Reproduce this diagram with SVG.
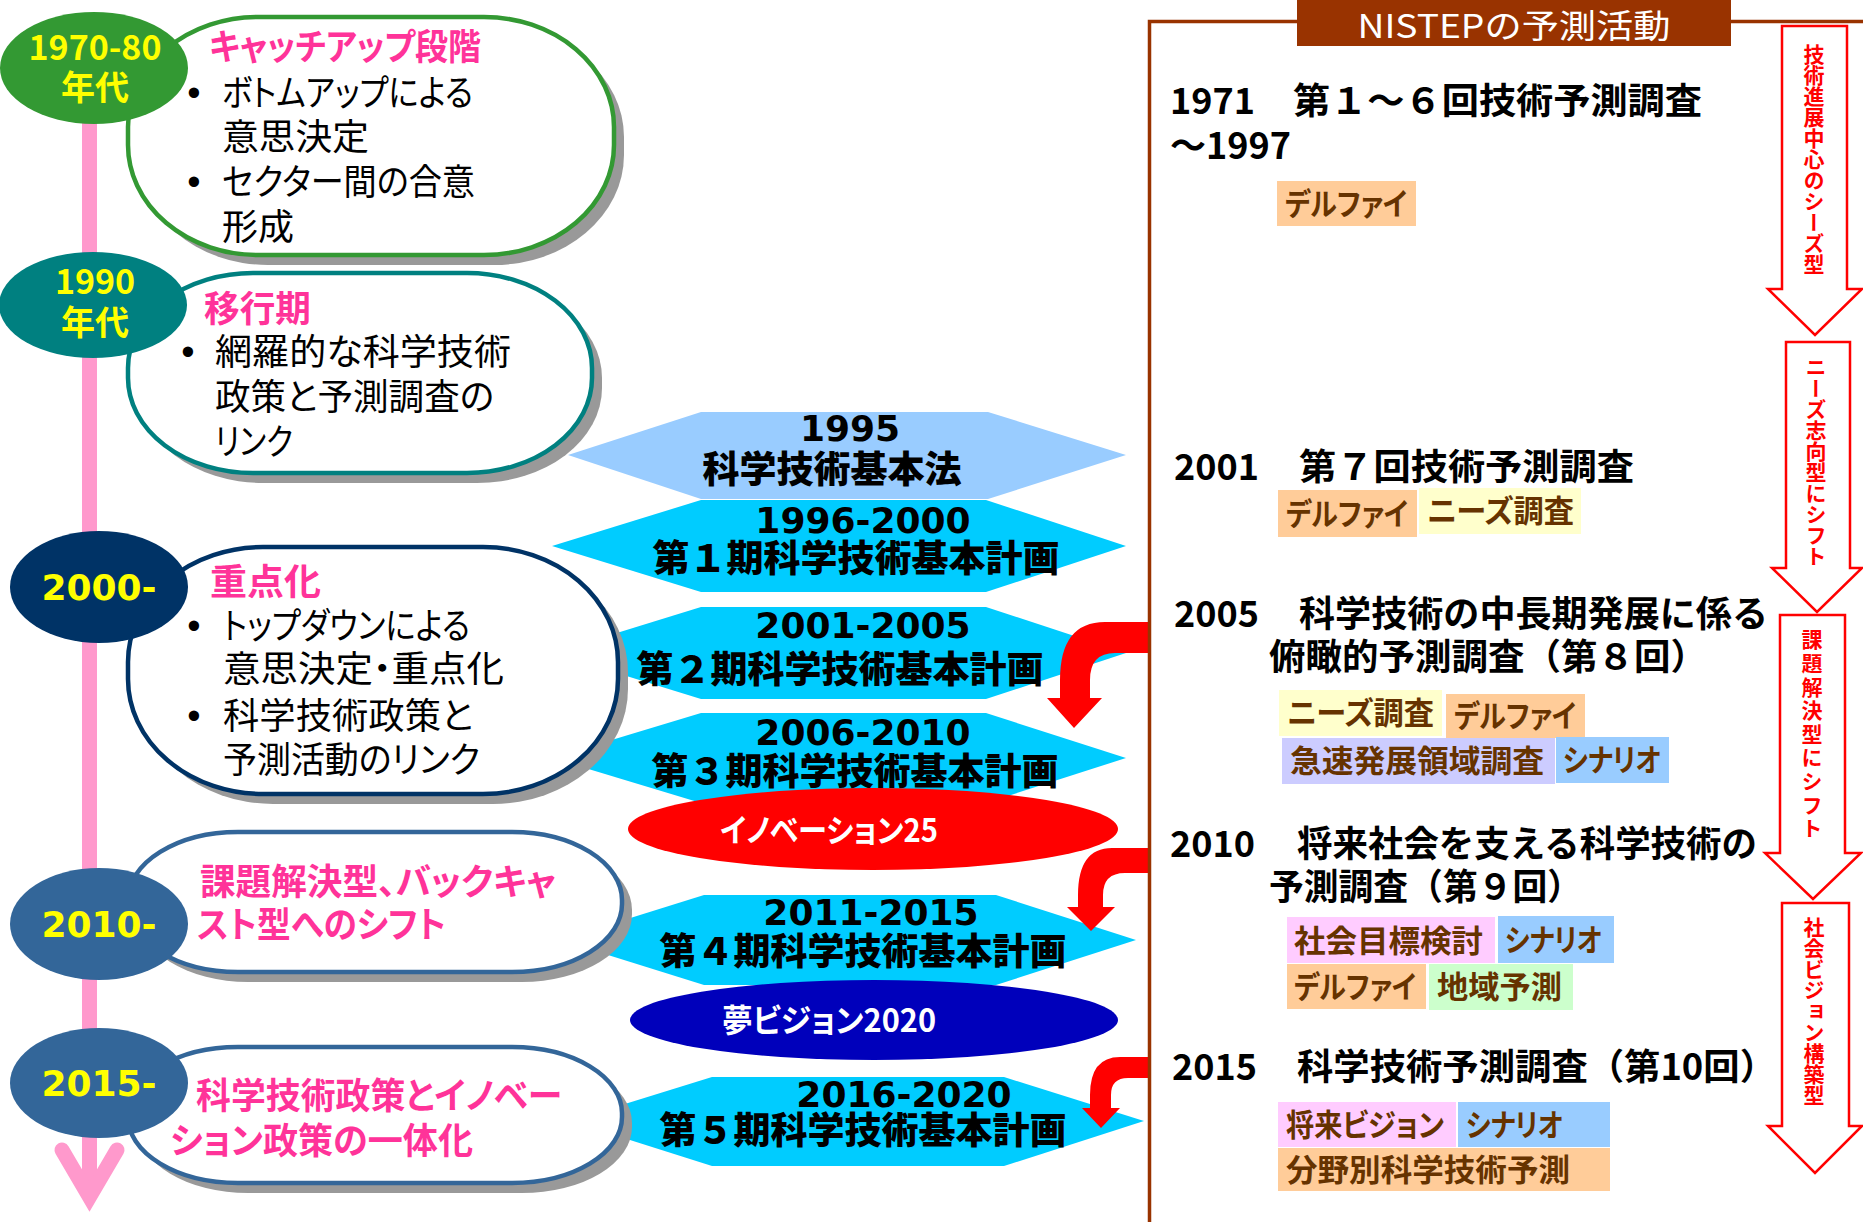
<svg xmlns="http://www.w3.org/2000/svg" width="1863" height="1222" viewBox="0 0 1863 1222">
<defs>
<style>
text { font-family: "Noto Sans CJK JP", "Noto Sans", sans-serif; }
.yr { font-family: "DejaVu Sans", sans-serif; font-weight: bold; fill: #FFFF00; font-size: 36px; text-anchor: middle; }
.yl { font-weight: bold; fill: #FFFF00; font-size: 34px; text-anchor: middle; }
.box { fill: #FFFFFF; stroke-width: 4.5; }
.shadow { fill: #999999; }
.ttl { fill: #FF3399; font-weight: bold; font-size: 36px; font-feature-settings: "palt" 1; }
.bl { fill: #000000; font-size: 36px; font-feature-settings: "palt" 1; }
.dot { font-family: "Liberation Sans", sans-serif; font-size: 38px; text-anchor: middle; fill: #000; }
.hx1 { fill: #99CCFF; }
.hx { fill: #00CCFF; }
.hxy { font-family: "DejaVu Sans", sans-serif; font-weight: bold; font-size: 36px; text-anchor: middle; fill: #000; }
.hxk { font-weight: 900; font-size: 37px; text-anchor: middle; fill: #000; }
.ovt { fill: #FFFFFF; font-weight: bold; font-size: 32px; text-anchor: middle; font-feature-settings: "palt" 1; }
.hd { font-weight: bold; font-size: 36px; fill: #000; }
.tagt { fill: #663300; font-weight: bold; font-size: 31px; font-feature-settings: "palt" 1; }
.or { fill: #FFCC99; }
.ye { fill: #FFFFCC; }
.la { fill: #CCCCFF; }
.bu { fill: #99CCFF; }
.pk { fill: #FFCCFF; }
.gr { fill: #CCFFCC; }
.v { fill: #FF0000; font-weight: bold; font-size: 21px; writing-mode: vertical-rl; }
.harrow { fill: #FFFFFF; stroke: #FF0000; stroke-width: 2.5; }
.curve { fill: #FF0000; }
</style>
</defs>

<!-- timeline -->
<g id="timeline">
  <line x1="89.5" y1="60" x2="89.5" y2="1195" stroke="#FF99CC" stroke-width="15"/>
  <path d="M62 1150 L89.5 1197 L117 1150" fill="none" stroke="#FF99CC" stroke-width="15" stroke-linecap="round" stroke-linejoin="miter"/>
</g>

<!-- plan hexagons -->
<g id="plan-1995">
  <polygon class="hx1" points="568,455 701,412 988,412 1126,455 988,499 701,499"/>
  <text class="hxy" x="850" y="441">1995</text>
  <text class="hxk" x="832" y="483">科学技術基本法</text>
</g>
<g id="plan-1">
  <polygon class="hx" points="552,546 701,500 986,500 1126,546 986,592 701,592"/>
  <text class="hxy" x="863" y="533">1996-2000</text>
  <text class="hxk" x="856" y="572">第１期科学技術基本計画</text>
</g>
<g id="plan-2">
  <polygon class="hx" points="552,653 701,607 986,607 1126,653 986,699 701,699"/>
  <text class="hxy" x="863" y="638">2001-2005</text>
  <text class="hxk" x="840" y="683">第２期科学技術基本計画</text>
</g>
<g id="plan-3">
  <polygon class="hx" points="552,758 701,713 986,713 1126,758 986,803 701,803"/>
  <text class="hxy" x="863" y="745">2006-2010</text>
  <text class="hxk" x="855" y="785">第３期科学技術基本計画</text>
</g>
<g id="innovation25">
  <ellipse cx="873" cy="829" rx="245" ry="41" fill="#FF0000"/>
  <text class="ovt" x="829" y="842" textLength="218" lengthAdjust="spacingAndGlyphs">イノベーション25</text>
</g>
<g id="plan-4">
  <polygon class="hx" points="560,940 704,895 996,895 1136,940 996,985 704,985"/>
  <text class="hxy" x="871" y="925">2011-2015</text>
  <text class="hxk" x="863" y="965">第４期科学技術基本計画</text>
</g>
<g id="yume2020">
  <ellipse cx="874" cy="1020" rx="244" ry="40" fill="#0000BB"/>
  <text class="ovt" x="829" y="1032" textLength="214" lengthAdjust="spacingAndGlyphs">夢ビジョン2020</text>
</g>
<g id="plan-5">
  <polygon class="hx" points="570,1121 712,1077 1004,1077 1144,1121 1004,1166 712,1166"/>
  <text class="hxy" x="904" y="1107">2016-2020</text>
  <text class="hxk" x="863" y="1144">第５期科学技術基本計画</text>
</g>

<!-- era boxes -->
<g id="era-1970">
  <rect class="shadow" x="138" y="27" width="486" height="238" rx="130" ry="110"/>
  <rect class="box" x="128" y="17" width="486" height="238" rx="130" ry="110" stroke="#339933"/>
  <ellipse cx="94" cy="68" rx="94" ry="56" fill="#339933"/>
  <text class="yl" x="95" y="60">1970-80</text>
  <text class="yl" x="95" y="100">年代</text>
  <text class="ttl" x="209" y="60" textLength="272" lengthAdjust="spacingAndGlyphs">キャッチアップ段階</text>
  <text class="dot" x="194" y="106">•</text>
  <text class="bl" x="222" y="106" textLength="251" lengthAdjust="spacingAndGlyphs">ボトムアップによる</text>
  <text class="bl" x="222" y="150" textLength="147" lengthAdjust="spacingAndGlyphs">意思決定</text>
  <text class="dot" x="194" y="195">•</text>
  <text class="bl" x="222" y="195" textLength="253" lengthAdjust="spacingAndGlyphs">セクター間の合意</text>
  <text class="bl" x="222" y="240" textLength="72" lengthAdjust="spacingAndGlyphs">形成</text>
</g>
<g id="era-1990">
  <rect class="shadow" x="138" y="283" width="464" height="200" rx="125" ry="95"/>
  <rect class="box" x="128" y="273" width="464" height="200" rx="125" ry="95" stroke="#008080"/>
  <ellipse cx="93" cy="305" rx="94" ry="53" fill="#008080"/>
  <text class="yl" x="95" y="294">1990</text>
  <text class="yl" x="95" y="335">年代</text>
  <text class="ttl" x="204" y="322" textLength="107" lengthAdjust="spacingAndGlyphs">移行期</text>
  <text class="dot" x="188" y="365">•</text>
  <text class="bl" x="215" y="365" textLength="296" lengthAdjust="spacingAndGlyphs">網羅的な科学技術</text>
  <text class="bl" x="215" y="410" textLength="279" lengthAdjust="spacingAndGlyphs">政策と予測調査の</text>
  <text class="bl" x="215" y="455" textLength="78" lengthAdjust="spacingAndGlyphs">リンク</text>
</g>
<g id="era-2000">
  <rect class="shadow" x="138" y="557" width="490" height="247" rx="135" ry="115"/>
  <rect class="box" x="128" y="547" width="490" height="247" rx="135" ry="115" stroke="#003366"/>
  <ellipse cx="99" cy="587" rx="89" ry="56" fill="#003366"/>
  <text class="yr" x="99" y="600">2000-</text>
  <text class="ttl" x="210" y="595" textLength="111" lengthAdjust="spacingAndGlyphs">重点化</text>
  <text class="dot" x="194" y="639">•</text>
  <text class="bl" x="223" y="639" textLength="247" lengthAdjust="spacingAndGlyphs">トップダウンによる</text>
  <text class="bl" x="223" y="682" textLength="281" lengthAdjust="spacingAndGlyphs">意思決定・重点化</text>
  <text class="dot" x="194" y="729">•</text>
  <text class="bl" x="223" y="729" textLength="250" lengthAdjust="spacingAndGlyphs">科学技術政策と</text>
  <text class="bl" x="223" y="773" textLength="257" lengthAdjust="spacingAndGlyphs">予測活動のリンク</text>
</g>
<g id="era-2010">
  <rect class="shadow" x="138" y="842" width="494" height="140" rx="110" ry="68"/>
  <rect class="box" x="128" y="832" width="494" height="140" rx="110" ry="68" stroke="#336699"/>
  <ellipse cx="99" cy="924" rx="89" ry="56" fill="#336699"/>
  <text class="yr" x="99" y="937">2010-</text>
  <text class="ttl" x="200" y="895" textLength="356" lengthAdjust="spacingAndGlyphs">課題解決型、バックキャ</text>
  <text class="ttl" x="197" y="938" textLength="249" lengthAdjust="spacingAndGlyphs">スト型へのシフト</text>
</g>
<g id="era-2015">
  <rect class="shadow" x="138" y="1057" width="494" height="136" rx="110" ry="66"/>
  <rect class="box" x="128" y="1047" width="494" height="136" rx="110" ry="66" stroke="#336699"/>
  <ellipse cx="99" cy="1083" rx="89" ry="55" fill="#336699"/>
  <text class="yr" x="99" y="1096">2015-</text>
  <text class="ttl" x="196" y="1109" textLength="366" lengthAdjust="spacingAndGlyphs">科学技術政策とイノベー</text>
  <text class="ttl" x="170" y="1154" textLength="303" lengthAdjust="spacingAndGlyphs">ション政策の一体化</text>
</g>

<!-- connectors -->
<g id="connectors">
  <path class="curve" d="M1150,622 L1105,622 Q1060,622 1060,680 L1060,698 L1047,698 L1074,728 L1102,698 L1090,698 L1090,680 Q1090,653 1115,653 L1150,653 Z"/>
  <path class="curve" d="M1150,848 L1112,848 Q1078,848 1078,895 L1078,907 L1067,907 L1091,931 L1115,907 L1103,907 L1103,895 Q1103,873 1125,873 L1150,873 Z"/>
  <path class="curve" d="M1150,1057 L1120,1057 Q1090,1057 1090,1095 L1090,1108 L1082,1108 L1101,1128 L1120,1108 L1111,1108 L1111,1095 Q1111,1078 1128,1078 L1150,1078 Z"/>
</g>

<!-- NISTEP panel -->
<g id="nistep-frame">
  <path d="M1149.5,1222 L1149.5,21.5 L1863,21.5" fill="none" stroke="#993300" stroke-width="3.5"/>
  <rect x="1297" y="0" width="434" height="46" fill="#993300"/>
  <text x="1514" y="38" font-size="33" fill="#FFFFFF" text-anchor="middle" textLength="313" lengthAdjust="spacingAndGlyphs">NISTEPの予測活動</text>
</g>

<g id="survey-1971">
  <text class="hd" x="1170" y="114">1971</text>
  <text class="hd" x="1293" y="114" textLength="409" lengthAdjust="spacingAndGlyphs">第１～６回技術予測調査</text>
  <text class="hd" x="1170" y="159">～1997</text>
  <rect class="or" x="1277" y="181" width="139" height="45"/>
  <text class="tagt" x="1285" y="215" textLength="122" lengthAdjust="spacingAndGlyphs">デルファイ</text>
</g>
<g id="survey-2001">
  <text class="hd" x="1174" y="480">2001</text>
  <text class="hd" x="1299" y="480" textLength="335" lengthAdjust="spacingAndGlyphs">第７回技術予測調査</text>
  <rect class="or" x="1278" y="490" width="139" height="47"/>
  <text class="tagt" x="1286" y="525" textLength="122" lengthAdjust="spacingAndGlyphs">デルファイ</text>
  <rect class="ye" x="1419" y="488" width="162" height="46"/>
  <text class="tagt" x="1427" y="522" textLength="147" lengthAdjust="spacingAndGlyphs">ニーズ調査</text>
</g>
<g id="survey-2005">
  <text class="hd" x="1174" y="627">2005</text>
  <text class="hd" x="1299" y="627" textLength="469" lengthAdjust="spacingAndGlyphs">科学技術の中長期発展に係る</text>
  <text class="hd" x="1269" y="670" textLength="438" lengthAdjust="spacingAndGlyphs">俯瞰的予測調査（第８回）</text>
  <rect class="ye" x="1279" y="690" width="163" height="46"/>
  <text class="tagt" x="1287" y="724" textLength="147" lengthAdjust="spacingAndGlyphs">ニーズ調査</text>
  <rect class="or" x="1446" y="694" width="139" height="44"/>
  <text class="tagt" x="1454" y="727" textLength="122" lengthAdjust="spacingAndGlyphs">デルファイ</text>
  <rect class="la" x="1282" y="738" width="273" height="46"/>
  <text class="tagt" x="1290" y="772" textLength="254" lengthAdjust="spacingAndGlyphs">急速発展領域調査</text>
  <rect class="bu" x="1556" y="737" width="113" height="46"/>
  <text class="tagt" x="1563" y="771" textLength="98" lengthAdjust="spacingAndGlyphs">シナリオ</text>
</g>
<g id="survey-2010">
  <text class="hd" x="1170" y="857">2010</text>
  <text class="hd" x="1297" y="857" textLength="460" lengthAdjust="spacingAndGlyphs">将来社会を支える科学技術の</text>
  <text class="hd" x="1269" y="900" textLength="313" lengthAdjust="spacingAndGlyphs">予測調査（第９回）</text>
  <rect class="pk" x="1287" y="917" width="208" height="46"/>
  <text class="tagt" x="1294" y="952" textLength="189" lengthAdjust="spacingAndGlyphs">社会目標検討</text>
  <rect class="bu" x="1498" y="916" width="116" height="47"/>
  <text class="tagt" x="1505" y="951" textLength="97" lengthAdjust="spacingAndGlyphs">シナリオ</text>
  <rect class="or" x="1287" y="964" width="139" height="45"/>
  <text class="tagt" x="1294" y="998" textLength="122" lengthAdjust="spacingAndGlyphs">デルファイ</text>
  <rect class="gr" x="1429" y="964" width="144" height="46"/>
  <text class="tagt" x="1437" y="998" textLength="125" lengthAdjust="spacingAndGlyphs">地域予測</text>
</g>
<g id="survey-2015">
  <text class="hd" x="1172" y="1080">2015</text>
  <text class="hd" x="1297" y="1080" textLength="479" lengthAdjust="spacingAndGlyphs">科学技術予測調査（第10回）</text>
  <rect class="pk" x="1278" y="1102" width="178" height="45"/>
  <text class="tagt" x="1286" y="1136" textLength="158" lengthAdjust="spacingAndGlyphs">将来ビジョン</text>
  <rect class="bu" x="1458" y="1102" width="152" height="45"/>
  <text class="tagt" x="1466" y="1136" textLength="97" lengthAdjust="spacingAndGlyphs">シナリオ</text>
  <rect class="or" x="1278" y="1148" width="332" height="43"/>
  <text class="tagt" x="1286" y="1181" textLength="284" lengthAdjust="spacingAndGlyphs">分野別科学技術予測</text>
</g>

<!-- phase arrows -->
<g id="phase-seeds">
  <polygon class="harrow" points="1782,26 1847,26 1847,289 1862,289 1815,335 1768,289 1782,289"/>
  <text class="v" x="1814" y="44">技術進展中心のシーズ型</text>
</g>
<g id="phase-needs">
  <polygon class="harrow" points="1786,342 1850,342 1850,568 1862,568 1817,612 1772,568 1786,568"/>
  <text class="v" x="1816" y="357">ニーズ志向型にシフト</text>
</g>
<g id="phase-issue">
  <polygon class="harrow" points="1780,615 1845,615 1845,853 1861,853 1813,899 1765,853 1780,853"/>
  <text class="v" x="1812" y="629" letter-spacing="2.6">課題解決型にシフト</text>
</g>
<g id="phase-vision">
  <polygon class="harrow" points="1782,903 1849,903 1849,1126 1862,1126 1815,1173 1768,1126 1782,1126"/>
  <text class="v" x="1814" y="917">社会ビジョン構築型</text>
</g>
</svg>
